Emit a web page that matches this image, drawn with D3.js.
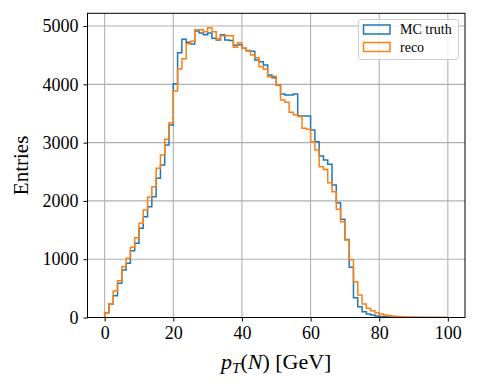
<!DOCTYPE html>
<html>
<head>
<meta charset="utf-8">
<script src="https://cdn.jsdelivr.net/npm/d3@7"></script>
<style>
  html, body { margin: 0; padding: 0; background: #fff; }
  svg text { font-family: "Liberation Serif", "DejaVu Serif", serif; fill: #000; }
</style>
</head>
<body>
<svg id="chart" width="479" height="387"></svg>
<script>
// ---- data ----
const binEdges = d3.range(0, 81).map(i => i * 1.25);   // 80 bins from 0 to 100 GeV
const truthCounts = [
  80, 230, 374, 586, 815, 930, 1146, 1273, 1530, 1729,
  1901, 2072, 2388, 2616, 2959, 3302, 4010, 4542, 4775, 4720,
  4690, 4914, 4880, 4850, 4880, 4790, 4760, 4850, 4760, 4750,
  4670, 4680, 4617, 4580, 4566, 4417, 4388, 4331, 4160, 4113,
  3988, 3834, 3816, 3816, 3834, 3456, 3456, 3456, 3216, 3016,
  2770, 2702, 2630, 2273, 1969, 1684, 1340, 860, 340, 186,
  100, 60, 43, 26, 17, 12, 8, 5, 3, 2,
  1, 1, 0, 0, 0, 0, 0, 0, 0, 0
];
const recoCounts = [
  80, 232, 455, 632, 872, 1015, 1204, 1369, 1615, 1844,
  2061, 2244, 2559, 2787, 3056, 3342, 3885, 4265, 4440, 4695,
  4740, 4937, 4937, 4903, 4970, 4903, 4777, 4834, 4834, 4834,
  4634, 4714, 4617, 4571, 4503, 4457, 4303, 4257, 4131, 4140,
  3988, 3731, 3691, 3520, 3480, 3450, 3245, 3230, 3016, 2873,
  2587, 2540, 2313, 2158, 1856, 1643, 1329, 990, 614, 386,
  231, 157, 117, 83, 60, 43, 30, 22, 16, 12,
  9, 7, 5, 4, 3, 2, 2, 1, 1, 1
];
const seriesNames = ["MC truth", "reco"];
const seriesColors = ["#1f77b4", "#ff7f0e"];
const xTicks = [0, 20, 40, 60, 80, 100];
const yTicks = [0, 1000, 2000, 3000, 4000, 5000];
const xLabelParts = [
  {t: "p", italic: true}, {t: "T", italic: true, sub: true},
  {t: "(", italic: false}, {t: "N", italic: true}, {t: ") [GeV]", italic: false}
];
const yLabel = "Entries";

// ---- layout ----
const L = 87.5, R = 465, T = 13.3, B = 317.5;
const svg = d3.select("#chart");

const yMax = d3.max([...truthCounts, ...recoCounts]) * 1.05;
const x = d3.scaleLinear().domain([-5, 105]).range([L, R]);
const y = d3.scaleLinear().domain([0, yMax]).range([B, T]);

// grid
const grid = svg.append("g");
grid.selectAll("line.gx").data(xTicks).enter().append("line")
  .attr("x1", d => x(d)).attr("x2", d => x(d)).attr("y1", T).attr("y2", B)
  .attr("stroke", "#b0b0b0").attr("stroke-width", 1.1);
grid.selectAll("line.gy").data(yTicks).enter().append("line")
  .attr("x1", L).attr("x2", R).attr("y1", d => y(d)).attr("y2", d => y(d))
  .attr("stroke", "#b0b0b0").attr("stroke-width", 1.1);

// clip
svg.append("clipPath").attr("id", "clip").append("rect")
  .attr("x", L).attr("y", T).attr("width", R - L).attr("height", B - T);

function stepPath(counts) {
  const pts = [[binEdges[0], 0]];
  counts.forEach((c, i) => { pts.push([binEdges[i], c]); pts.push([binEdges[i + 1], c]); });
  pts.push([binEdges[binEdges.length - 1], 0]);
  return d3.line().x(d => x(d[0])).y(d => y(d[1]))(pts);
}

const plot = svg.append("g").attr("clip-path", "url(#clip)");
[truthCounts, recoCounts].forEach((counts, i) => {
  plot.append("path").attr("d", stepPath(counts))
    .attr("fill", "none").attr("stroke", seriesColors[i])
    .attr("stroke-width", 1.5).attr("stroke-linejoin", "miter");
});

// axes
const xAxis = d3.axisBottom(x).tickValues(xTicks).tickSize(4).tickPadding(5).tickFormat(d3.format("d"));
const yAxis = d3.axisLeft(y).tickValues(yTicks).tickSize(4).tickPadding(5).tickFormat(d3.format("d"));
const gx = svg.append("g").attr("transform", `translate(0,${B})`).call(xAxis);
const gy = svg.append("g").attr("transform", `translate(${L},0)`).call(yAxis);
[gx, gy].forEach(g => {
  g.select(".domain").remove();
  g.selectAll(".tick line").attr("stroke", "#000").attr("stroke-width", 1);
  g.selectAll(".tick text").attr("font-size", 18).style("font-family", '"Liberation Serif", serif');
});

// frame
svg.append("rect").attr("x", L).attr("y", T).attr("width", R - L).attr("height", B - T)
  .attr("fill", "none").attr("stroke", "#000").attr("stroke-width", 1);

// x label
const xl = svg.append("text").attr("x", (L + R) / 2).attr("y", 369)
  .attr("text-anchor", "middle").attr("font-size", 22);
xLabelParts.forEach(p => {
  const ts = xl.append("tspan").text(p.t).attr("font-style", p.italic ? "italic" : "normal");
  if (p.sub) ts.attr("font-size", 15).attr("dy", 4);
  else if (p.t === "(") ts.attr("dy", -4);
});

// y label
svg.append("text").attr("transform", `translate(28,${(T + B) / 2}) rotate(-90)`)
  .attr("text-anchor", "middle").attr("font-size", 21).text(yLabel);

// legend
const lg = svg.append("g");
lg.append("rect").attr("x", 358.5).attr("y", 19.5).attr("width", 100).attr("height", 40)
  .attr("rx", 3).attr("fill", "#fff").attr("fill-opacity", 0.8)
  .attr("stroke", "#cccccc").attr("stroke-width", 1);
seriesNames.forEach((name, i) => {
  const yy = 25 + i * 17.5;
  lg.append("rect").attr("x", 363.5).attr("y", yy).attr("width", 26.5).attr("height", 9)
    .attr("fill", "none").attr("stroke", seriesColors[i]).attr("stroke-width", 1.5);
  lg.append("text").attr("x", 400).attr("y", yy + 9).attr("font-size", 14).text(name);
});
</script>
</body>
</html>
